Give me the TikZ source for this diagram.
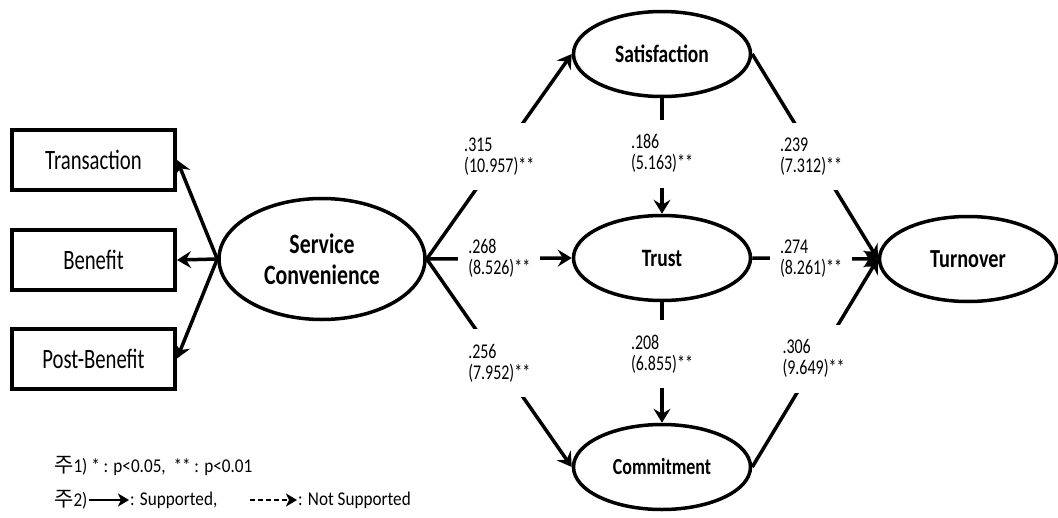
\documentclass[tikz,border=0pt]{standalone}
\usepackage{fontspec}
\setmainfont{Carlito}
\newfontfamily\nodefont{Carlito}[FakeStretch=0.78]
\newfontfamily\boxfont{Carlito}[FakeStretch=0.74]
\newfontfamily\labfont{Carlito}[FakeStretch=0.76]
\newfontfamily\legfont{Carlito}[FakeStretch=0.88]
\newfontfamily\krfont{Noto Sans CJK KR}
\newcommand\jukr{{\krfont\fontsize{21}{21}\selectfont 주}}
\usetikzlibrary{shapes.geometric,arrows.meta}
\tikzset{
  latent/.style={ellipse, draw, line width=3.5pt, inner sep=0pt,
    minimum width=177pt, minimum height=85pt, align=center,
    font=\nodefont\bfseries\fontsize{25}{27}\selectfont},
  obs/.style={rectangle, draw, line width=4pt, inner sep=0pt,
    minimum width=163pt, minimum height=60pt,
    font=\boxfont\fontsize{28}{30}\selectfont},
  pth/.style={line width=3.5pt, -{Stealth[length=14pt,width=17pt,inset=5pt]}},
  coef/.style={fill=white, inner xsep=10pt, inner ysep=15pt, align=left,
    font=\labfont\fontsize{21}{21}\selectfont},
  leg/.style={anchor=west, inner sep=1pt, font=\legfont\fontsize{19.5}{21}\selectfont},
  legarr/.style={line width=2pt, -{Stealth[length=11pt,width=13pt,inset=3pt]}}
}
\begin{document}
\begin{tikzpicture}[x=1pt,y=-1pt]
\useasboundingbox[fill=white] (0,0) rectangle (1058,517);

% observed indicators
\node[obs] (tr) at (93.5,160) {Transaction};
\node[obs] (be) at (93.5,260) {Benefit};
\node[obs] (pb) at (93.5,358.5) {Post-Benefit};

% latent constructs
\node[latent, minimum width=206pt, minimum height=121pt,
  font=\nodefont\bfseries\fontsize{28}{31}\selectfont] (sc) at (322,259) {Service\\Convenience};
\node[latent] (sa) at (662,54) {Satisfaction};
\node[latent] (tu) at (662,258) {Trust};
\node[latent, font=\nodefont\bfseries\fontsize{23}{25}\selectfont] (co) at (662,467) {Commitment};
\node[latent, font=\nodefont\bfseries\fontsize{26}{28}\selectfont] (to) at (968,259) {Turnover};

% measurement arrows
\draw[pth] (sc.west) -- (tr.east);
\draw[pth] (sc.west) -- (be.east);
\draw[pth] (sc.west) -- (pb.east);

% structural paths
\draw[pth] (sc.east) -- node[coef] {.315\\(10.957)**} (sa.west);
\draw[pth] (sc.east) -- node[coef] {.268\\(8.526)**} (tu.west);
\draw[pth] (sc.east) -- node[coef] {.256\\(7.952)**} (co.west);
\draw[pth] (sa.south) -- node[coef, pos=0.48] {.186\\(5.163)**} (tu.north);
\draw[pth] (tu.south) -- node[coef, pos=0.43] {.208\\(6.855)**} (co.north);
\draw[pth] (sa.east) -- node[coef, xshift=-4pt] {.239\\(7.312)**} (to.west);
\draw[pth] (tu.east) -- node[coef, xshift=-4pt] {.274\\(8.261)**} (to.west);
\draw[pth] (co.east) -- node[coef, xshift=-4pt, pos=0.52] {.306\\(9.649)**} (to.west);

% legend
\node[leg] (n1) at (53,466) {\jukr1) * : p<0.05,\ \ ** : p<0.01};
\node[leg] (n2) at (53,500) {\jukr2)};
\node[leg] (s1) at (129,500) {: Supported,};
\draw[legarr] (n2.east) -- (s1.west);
\coordinate (d0) at (250,500);
\node[leg] (s2) at (297,500) {: Not Supported};
\draw[legarr, dash pattern=on 5pt off 3pt] (d0) -- (s2.west);
\end{tikzpicture}
\end{document}
